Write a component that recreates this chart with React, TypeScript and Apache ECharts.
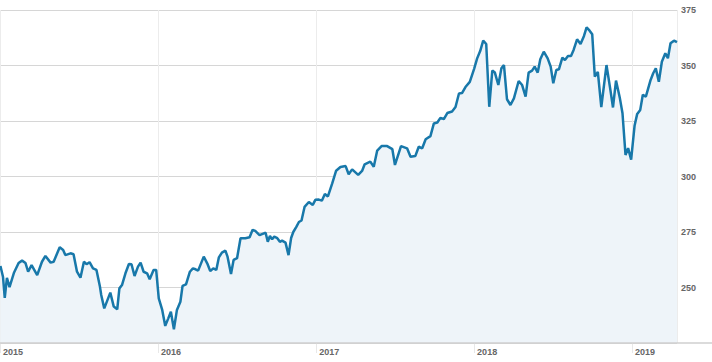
import React, { useEffect, useRef } from "react";
import * as echarts from "echarts";

const dates2015 = ["2015-01-02","2015-01-08","2015-01-12","2015-01-17","2015-01-23","2015-02-02","2015-02-13","2015-02-21","2015-03-01","2015-03-07","2015-03-15","2015-03-28","2015-04-08","2015-04-16","2015-04-28","2015-05-05","2015-05-19","2015-05-27","2015-06-01","2015-06-13","2015-06-20","2015-06-28","2015-07-06","2015-07-14","2015-07-20","2015-07-27","2015-08-04","2015-08-12","2015-08-20","2015-08-23","2015-08-30","2015-09-13","2015-09-21","2015-09-29","2015-10-04","2015-10-10","2015-10-18","2015-10-26","2015-11-01","2015-11-08","2015-11-16","2015-11-22","2015-11-29","2015-12-07","2015-12-13","2015-12-22","2015-12-28"];
const values2015 = [259.7,254.7,245.3,254.3,250.2,256.5,261.0,262.1,261.0,257.1,260.1,255.6,261.6,264.2,261.2,261.6,268.1,266.9,264.6,265.4,265.0,257.1,254.4,261.6,260.5,261.4,258.6,257.9,250.4,246.6,240.6,247.7,241.4,240.2,249.6,251.1,256.4,260.6,260.5,255.2,259.4,261.2,257.1,256.4,253.7,257.9,257.9];

const dates2016 = ["2016-01-03","2016-01-11","2016-01-18","2016-01-25","2016-01-31","2016-02-07","2016-02-14","2016-02-22","2016-02-27","2016-03-06","2016-03-15","2016-03-22","2016-03-28","2016-04-03","2016-04-16","2016-04-24","2016-05-01","2016-05-08","2016-05-15","2016-05-21","2016-05-28","2016-06-05","2016-06-10","2016-06-18","2016-06-24","2016-07-02","2016-07-10","2016-07-21","2016-07-31","2016-08-07","2016-08-13","2016-08-23","2016-09-02","2016-09-06","2016-09-11","2016-09-16","2016-09-21","2016-09-26","2016-10-03","2016-10-09","2016-10-14","2016-10-22","2016-10-29","2016-11-04","2016-11-09","2016-11-16","2016-11-22","2016-11-28","2016-12-05","2016-12-15","2016-12-24","2016-12-30"];
const values2016 = [245.1,239.9,232.7,236.1,239.1,231.2,239.9,243.6,250.7,251.4,257.1,258.6,258.2,257.6,263.9,260.9,257.4,258.6,257.9,263.6,265.7,266.6,263.9,256.1,262.4,263.2,272.2,272.2,272.6,276.0,275.5,273.6,274.4,274.7,270.6,273.2,271.7,272.9,272.2,270.6,271.1,270.2,264.6,272.3,275.0,277.3,279.5,280.2,286.3,288.5,287.2,289.5];

const dates2017 = ["2017-01-07","2017-01-14","2017-01-21","2017-01-28","2017-02-07","2017-02-16","2017-02-26","2017-03-10","2017-03-17","2017-03-25","2017-04-08","2017-04-17","2017-04-23","2017-05-06","2017-05-14","2017-05-22","2017-06-01","2017-06-14","2017-06-26","2017-07-02","2017-07-16","2017-07-30","2017-08-07","2017-08-18","2017-08-26","2017-09-03","2017-09-11","2017-09-22","2017-09-30","2017-10-08","2017-10-15","2017-10-23","2017-10-31","2017-11-11","2017-11-19","2017-11-27","2017-12-04","2017-12-12","2017-12-22"];
const values2017 = [289.6,289.1,292.1,291.0,296.9,302.6,304.3,304.7,301.0,303.2,300.7,302.5,305.5,306.7,304.4,311.7,313.7,313.7,312.3,305.2,313.7,312.7,308.9,309.2,313.4,312.7,316.8,318.2,323.9,324.3,326.4,325.9,328.6,329.3,331.3,337.4,337.6,340.3,342.6];

const dates2018 = ["2018-01-01","2018-01-08","2018-01-15","2018-01-22","2018-01-29","2018-02-05","2018-02-12","2018-02-18","2018-02-26","2018-03-05","2018-03-11","2018-03-18","2018-03-26","2018-04-03","2018-04-14","2018-04-22","2018-04-30","2018-05-07","2018-05-15","2018-05-21","2018-05-28","2018-06-03","2018-06-11","2018-06-20","2018-06-27","2018-07-03","2018-07-10","2018-07-16","2018-07-24","2018-07-30","2018-08-06","2018-08-13","2018-08-19","2018-08-27","2018-09-04","2018-09-12","2018-09-18","2018-09-25","2018-10-01","2018-10-07","2018-10-14","2018-10-22","2018-11-03","2018-11-12","2018-11-18","2018-11-25","2018-12-04","2018-12-10","2018-12-17","2018-12-23","2018-12-30"];
const values2018 = [348.5,353.2,356.5,361.2,359.7,331.4,347.7,346.8,341.2,348.7,350.2,334.8,332.2,335.2,343.0,341.2,336.0,346.8,347.7,349.5,346.8,352.8,356.2,353.2,349.5,342.0,348.0,348.3,353.5,352.5,354.3,354.3,357.0,361.8,359.7,363.3,367.2,365.7,364.1,345.0,347.1,331.3,350.2,339.0,331.1,343.2,335.2,328.5,309.7,312.8,307.6];

const dates2019 = ["2019-01-07","2019-01-13","2019-01-20","2019-01-26","2019-02-02","2019-02-13","2019-02-19","2019-02-25","2019-03-04","2019-03-11","2019-03-19","2019-03-25","2019-03-31","2019-04-08","2019-04-15"];
const values2019 = [323.0,328.2,330.0,336.8,336.0,343.5,346.5,348.7,342.7,351.7,355.5,353.3,360.0,361.2,360.5];

const yTicks = [250, 275, 300, 325, 350, 375];

const allDates = [...dates2015, ...dates2016, ...dates2017, ...dates2018, ...dates2019];
const allValues = [...values2015, ...values2016, ...values2017, ...values2018, ...values2019];

export default function App() {
  const ref = useRef<HTMLDivElement>(null);
  useEffect(() => {
    if (!ref.current) return;
    const chart = echarts.init(ref.current, undefined, { renderer: "svg" });
    const YEAR = 365 * 24 * 3600 * 1000;
    chart.setOption({
      animation: false,
      grid: { left: 0, right: 35, top: 10, bottom: 19, containLabel: false },
      xAxis: {
        type: "time",
        min: "2015-01-01",
        max: "2019-04-15",
        minInterval: YEAR,
        maxInterval: YEAR * 1.01,
        axisLine: { show: false },
        axisTick: { show: true, length: 10, inside: false, lineStyle: { color: "#e8e8e8", width: 1 } },
        splitLine: { show: true, lineStyle: { color: "#ececec", width: 1 } },
        axisLabel: {
          formatter: (v: number) => String(new Date(v).getFullYear()),
          align: "left",
          padding: [0, 0, 0, 3],
          margin: 4,
          fontSize: 9,
          fontWeight: "bold",
          color: "#666",
          fontFamily: "Liberation Sans, Arial, sans-serif",
          showMinLabel: true,
          showMaxLabel: false,
        },
      },
      yAxis: {
        type: "value",
        position: "right",
        min: 225,
        max: 375,
        interval: 25,
        axisLine: { show: false },
        axisTick: { show: false },
        splitLine: { show: true, lineStyle: { color: "#d6d6d6", width: 1 } },
        axisLabel: {
          showMinLabel: false,
          margin: 4,
          fontSize: 9,
          fontWeight: "bold",
          color: "#666",
          fontFamily: "Liberation Sans, Arial, sans-serif",
          formatter: (v: number) => (yTicks.includes(v) ? String(v) : ""),
        },
      },
      graphic: [
        {
          type: "line",
          shape: { x1: 0, y1: 343, x2: 712, y2: 343 },
          style: { stroke: "#cfcfcf", lineWidth: 1.5 },
          z: 10,
        },
      ],
      series: [
        {
          type: "line",
          data: allDates.map((d, i) => [d, allValues[i]]),
          showSymbol: false,
          symbol: "none",
          lineStyle: { color: "#1878aa", width: 2.5 },
          itemStyle: { color: "#1878aa" },
          areaStyle: { color: "#eef4f9", opacity: 1 },
          z: 3,
        },
      ],
    });
    return () => chart.dispose();
  }, []);
  return <div ref={ref} style={{ width: 712, height: 362, position: "absolute", left: 0, top: 0 }} />;
}
